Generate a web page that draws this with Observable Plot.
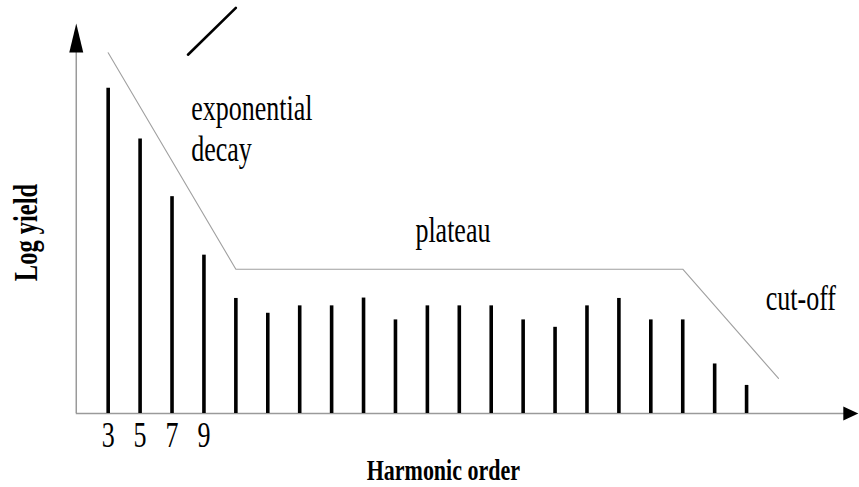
<!DOCTYPE html>
<html>
<head>
<meta charset="utf-8">
<script src="https://cdn.jsdelivr.net/npm/d3@7"></script>
<script src="https://cdn.jsdelivr.net/npm/@observablehq/plot@0.6"></script>
<style>
  html, body { margin: 0; padding: 0; background: #fff; }
  #chart svg { display: block; }
</style>
</head>
<body>
<div id="chart"></div>
<script>
// Odd harmonic orders and their (schematic) log yield
const harmonicOrder = [3, 5, 7, 9, 11, 13, 15, 17, 19, 21, 23, 25, 27, 29, 31, 33, 35, 37, 39, 41, 43];
const logYield = [83.4, 70.4, 55.6, 40.6, 29.5, 25.7, 27.6, 27.6, 29.6, 24.0, 27.6, 27.6, 27.6, 24.0, 22.1, 27.6, 29.5, 24.0, 24.0, 12.7, 7.2];

// Labelled harmonic orders on the horizontal axis
const tickLabels = [3, 5, 7, 9];

// Envelope: exponential decay -> plateau -> cut-off
const envelopeOrder = [3, 11, 39, 45];
const envelopeLevel = [92.5, 37, 37, 9];

// Short stroke above the decay region
const strokeOrder = [8, 11];
const strokeLevel = [92, 104];

// Region names
const decayLines = ["exponential", "decay"];
const decayLevels = [78.1, 67.8];
const plateauName = "plateau";
const cutoffName = "cut-off";

const bars = harmonicOrder.map((n, i) => ({n, v: logYield[i]}));
const envelope = envelopeOrder.map((n, i) => ({n, v: envelopeLevel[i]}));
const stroke = strokeOrder.map((n, i) => ({n, v: strokeLevel[i]}));
const decay = decayLines.map((t, i) => ({t, v: decayLevels[i]}));

// Filled arrowheads, tip at the origin
const headUp = {draw(ctx) { ctx.moveTo(0, 0); ctx.lineTo(7, 29); ctx.lineTo(-7, 29); ctx.closePath(); }};
const headRight = {draw(ctx) { ctx.moveTo(0, 0); ctx.lineTo(-15, -7); ctx.lineTo(-15, 7); ctx.closePath(); }};

const axisGray = "#9a9a9a";
const serif = "Liberation Serif, Times New Roman, serif";
// tall, narrow lettering
const glyphStretch = 1.38;

const chart = Plot.plot({
  width: 859,
  height: 487,
  margin: 0,
  style: {fontFamily: serif, background: "#fff", color: "#000"},
  x: {domain: [0, 50], range: [59.8, 857.8], axis: null},
  y: {domain: [0, 100], range: [413, 23], axis: null},
  marks: [
    // axes
    Plot.ruleY([0], {x1: 1, x2: 49.3, stroke: axisGray, strokeWidth: 1.5}),
    Plot.ruleX([1], {y1: 0, y2: 94, stroke: axisGray, strokeWidth: 1.5}),
    Plot.dot([0], {x: () => 1, y: () => 100, symbol: headUp, fill: "#000", stroke: "none"}),
    Plot.dot([0], {x: () => 50, y: () => 0, symbol: headRight, fill: "#000", stroke: "none"}),

    // envelope
    Plot.line(envelope, {x: "n", y: "v", stroke: "#a0a0a0", strokeWidth: 1.1}),

    // harmonic peaks
    Plot.ruleX(bars, {x: "n", y1: 0, y2: "v", stroke: "#000", strokeWidth: 3.6}),

    // stroke above
    Plot.line(stroke, {x: "n", y: "v", stroke: "#000", strokeWidth: 2.6}),

    // tick labels
    Plot.text(tickLabels, {x: d => d, y: () => 0, text: d => String(d), dy: 22.5, fontSize: 26, fill: "#000"}),

    // region names
    Plot.text(decay, {x: () => 8.2, y: "v", text: "t", textAnchor: "start", fontSize: 26, fill: "#000"}),
    Plot.text([plateauName], {x: () => 24.6, y: () => 46.9, text: d => d, fontSize: 26, fill: "#000"}),
    Plot.text([cutoffName], {x: () => 46.4, y: () => 29.4, text: d => d, fontSize: 26, fill: "#000"}),

    // axis titles
    Plot.text(["Harmonic order"], {x: () => 24, y: () => 0, text: d => d, dy: 57, fontSize: 22, fontWeight: "bold", fill: "#000"}),
    Plot.text(["Log yield"], {x: () => 1, y: () => 46.4, text: d => d, dx: -50, rotate: -90, fontSize: 24.5, fontWeight: "bold", fill: "#000"})
  ]
});

// stretch every label along its own vertical direction
d3.select(chart).selectAll("text").each(function () {
  const t = this.getAttribute("transform") || "";
  this.setAttribute("transform", `${t} scale(1,${glyphStretch})`);
});

document.getElementById("chart").appendChild(chart);
</script>
</body>
</html>
